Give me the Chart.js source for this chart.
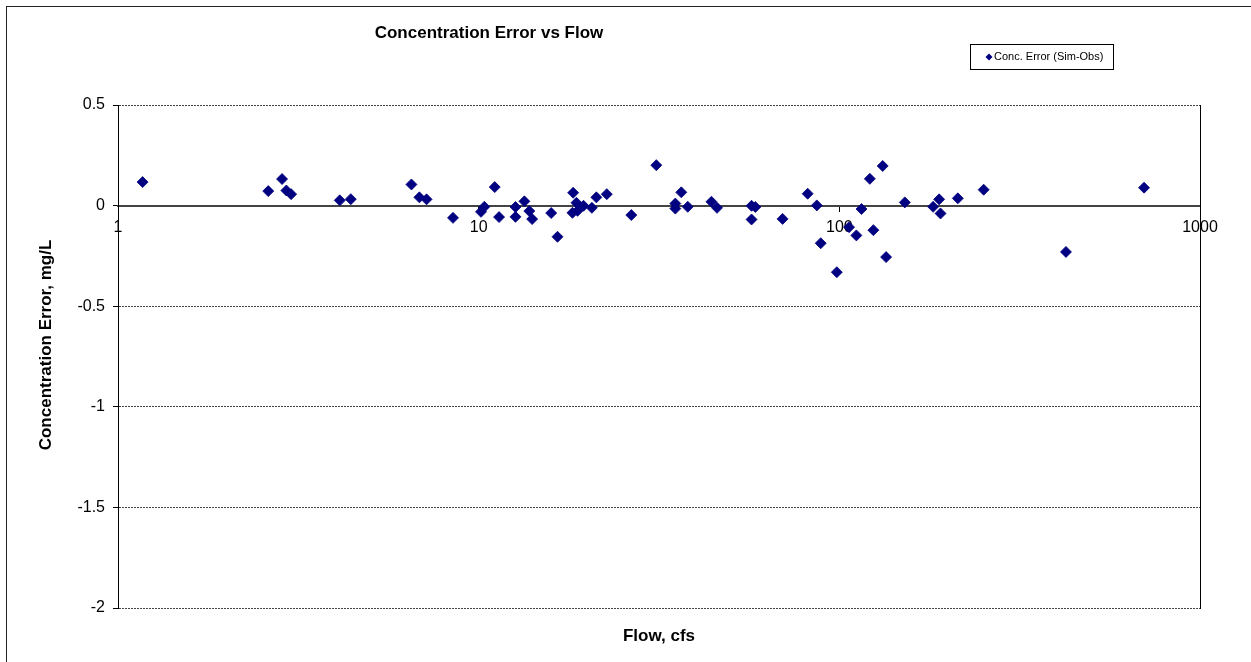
<!DOCTYPE html>
<html><head><meta charset="utf-8">
<script src="https://cdn.jsdelivr.net/npm/chart.js@4.4.1/dist/chart.umd.min.js"></script>
<style>html,body{margin:0;padding:0;background:#fff}canvas{display:block}</style>
</head><body>
<canvas id="c" width="1251" height="662"></canvas>
<script>
const chartTitle = 'Concentration Error vs Flow';
const seriesName = 'Conc. Error (Sim-Obs)';
const xTitle = 'Flow, cfs';
const yTitle = 'Concentration Error, mg/L';

const flow = [1.17, 2.61, 2.85, 2.93, 3.02, 4.12, 4.42, 6.51, 6.85, 7.17, 8.49, 10.15, 10.37, 11.08, 11.39,
  12.65, 12.65, 13.39, 13.82, 14.07, 15.89, 16.54, 18.28, 18.2, 18.67, 18.8, 19.53, 20.6, 21.2, 22.66,
  26.5, 31.08, 35.1, 35.1, 36.46, 38.0, 44.2, 45.8, 57.1, 58.5, 57.1, 69.6, 81.7, 86.6, 88.8, 98.4,
  106.4, 111.5, 115.2, 121.5, 124.3, 131.9, 134.8, 151.9, 182, 189.1, 190.8, 213.1, 251.3, 425, 699.6];
const concError = [0.117, 0.072, 0.132, 0.075, 0.057, 0.026, 0.032, 0.105, 0.041, 0.031, -0.061, -0.031, -0.006, 0.092, -0.057,
  -0.007, -0.056, 0.021, -0.027, -0.067, -0.037, -0.155, 0.064, -0.036, 0.014, -0.026, -0.001, -0.011, 0.041, 0.057,
  -0.047, 0.201, 0.010, -0.015, 0.066, -0.006, 0.019, -0.011, -0.001, -0.007, -0.069, -0.066, 0.059, 0.001, -0.187, -0.331,
  -0.107, -0.148, -0.017, 0.133, -0.122, 0.197, -0.256, 0.016, -0.006, 0.031, -0.039, 0.036, 0.079, -0.230, 0.089];
const xTickValues = [1, 10, 100, 1000];
const yTickValues = [-2, -1.5, -1, -0.5, 0, 0.5];

const FONT = "'Liberation Sans', Arial, sans-serif";
Chart.defaults.font.family = FONT;
Chart.defaults.color = '#000';

const points = flow.map((f, i) => ({x: f, y: concError[i]}));
const navy = '#000080';

const decor = {
  id: 'decor',
  beforeDraw(chart) {
    const c = chart.ctx;
    c.save(); c.fillStyle = '#fff'; c.fillRect(0, 0, chart.width, chart.height); c.restore();
  },
  afterDraw(chart) {
    const c = chart.ctx, a = chart.chartArea;
    c.save();
    c.strokeStyle = '#222'; c.lineWidth = 1;
    c.strokeRect(6.5, 6.5, chart.width + 20, chart.height + 20);
    c.fillStyle = '#000';
    c.font = 'bold 17px ' + FONT;
    c.textAlign = 'center'; c.textBaseline = 'middle';
    c.fillText(chartTitle, 489, 33);
    c.fillText(xTitle, (a.left + a.right) / 2, 636);
    c.save();
    c.translate(46, 345); c.rotate(-Math.PI / 2);
    c.fillText(yTitle, 0, 0);
    c.restore();
    // legend
    c.strokeStyle = '#000'; c.lineWidth = 1;
    c.strokeRect(970.5, 44.5, 143, 25);
    c.fillStyle = navy;
    const mx = 989, my = 57, r = 3.5;
    c.beginPath(); c.moveTo(mx, my - r); c.lineTo(mx + r, my); c.lineTo(mx, my + r); c.lineTo(mx - r, my); c.closePath(); c.fill();
    c.fillStyle = '#000';
    c.font = '11px ' + FONT; c.textAlign = 'left';
    c.fillText(seriesName, 994, 57);
    c.restore();
  }
};

new Chart(document.getElementById('c'), {
  type: 'scatter',
  data: {
    datasets: [{
      label: seriesName,
      data: points,
      pointStyle: 'rectRot',
      pointRadius: 5.5,
      pointHoverRadius: 5.5,
      backgroundColor: navy,
      borderColor: navy,
      borderWidth: 0.8
    }]
  },
  options: {
    responsive: false,
    animation: false,
    devicePixelRatio: 1,
    layout: { padding: { left: 6, top: 105, right: 51, bottom: 54 } },
    plugins: { legend: { display: false }, tooltip: { enabled: false }, title: { display: false } },
    events: [],
    scales: {
      x: {
        type: 'logarithmic',
        position: { y: 0 },
        min: 1, max: 1000,
        afterBuildTicks: s => { s.ticks = xTickValues.map(v => ({ value: v, major: true })); },
        ticks: {
          callback: v => String(v),
          font: { size: 16 },
          color: '#000',
          padding: 7,
          maxRotation: 0,
          autoSkip: false
        },
        grid: { drawOnChartArea: false, drawTicks: true, tickLength: 5, tickColor: '#000', color: '#000' },
        border: { display: true, color: '#444', width: 2 }
      },
      y: {
        position: 'left',
        min: -2, max: 0.5,
        afterBuildTicks: s => { s.ticks = yTickValues.map(v => ({ value: v })); },
        afterFit: s => { s.width = 112; },
        ticks: { font: { size: 16 }, color: '#000', padding: 8, callback: v => String(v) },
        grid: {
          color: ctx => (ctx.tick && ctx.tick.value === 0) ? 'rgba(0,0,0,0)' : '#444',
          tickLength: 5, tickColor: '#000', tickBorderDash: []
        },
        border: { display: true, color: '#000', width: 1, dash: [2, 1] }
      },
      yr: {
        position: { x: 1000 },
        min: -2, max: 0.5,
        ticks: { display: false },
        grid: { display: false },
        border: { display: true, color: '#000', width: 1 }
      }
    }
  },
  plugins: [decor]
});
</script>
</body></html>
